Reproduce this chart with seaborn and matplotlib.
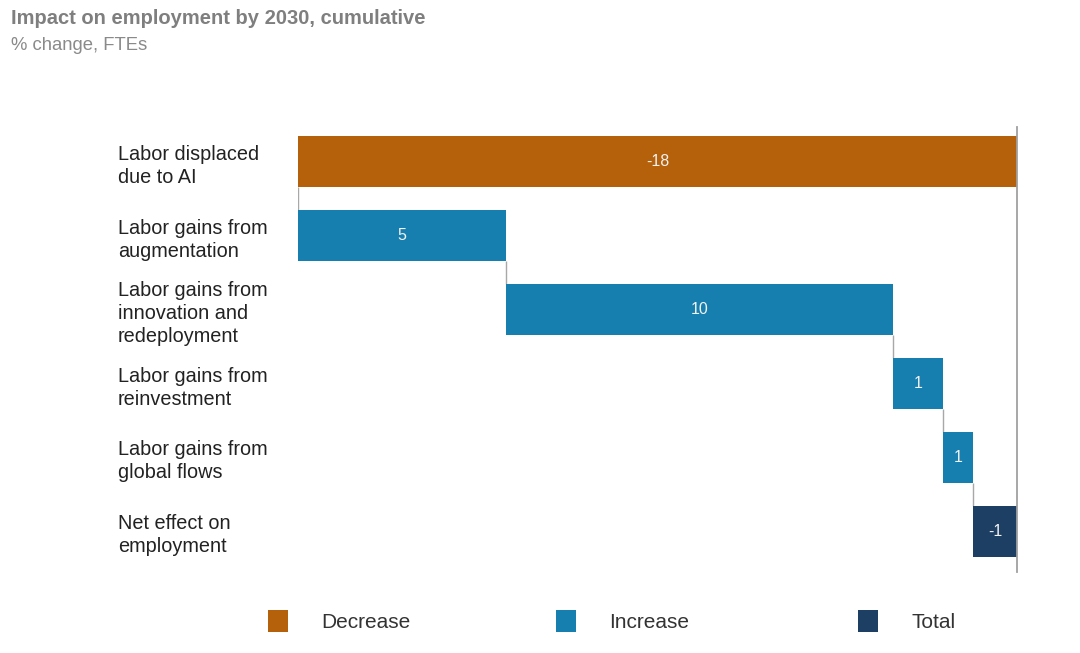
import numpy as np
import pandas as pd
import matplotlib
matplotlib.use("Agg")
import matplotlib.pyplot as plt
import seaborn as sns
from matplotlib.patches import Patch

# ---------------- data ----------------
title = "Impact on employment by 2030, cumulative"
subtitle = "% change, FTEs"
categories = [
    "Labor displaced\ndue to AI",
    "Labor gains from\naugmentation",
    "Labor gains from\ninnovation and\nredeployment",
    "Labor gains from\nreinvestment",
    "Labor gains from\nglobal flows",
    "Net effect on\nemployment",
]
steps = [-18.0, 5.2, 9.7, 1.25, 0.75]          # contributions
value_labels = ["-18", "5", "10", "1", "1", "-1"]
kinds = ["Decrease", "Increase", "Increase", "Increase", "Increase", "Total"]
legend_labels = ["Decrease", "Increase", "Total"]
colors = {"Decrease": "#B5600B", "Increase": "#167FAF", "Total": "#1D3F64"}

# ---------------- derived waterfall geometry ----------------
cum = np.cumsum(steps)
total = cum[-1]
deltas = np.array(steps + [total])
starts = np.concatenate([[0.0], cum[:-1], [0.0]])
ends = starts + deltas
df = pd.DataFrame({"category": categories, "delta": deltas, "start": starts, "kind": kinds})

sns.set_theme(style="white")
plt.rcParams["font.family"] = ["Liberation Sans", "DejaVu Sans"]

W, H = 1080, 653
fig = plt.figure(figsize=(W / 100, H / 100), dpi=100)
ax = fig.add_axes([298 / W, 1 - 572 / H, (1017 - 298) / W, (572 - 127) / H])

bar_w = 0.69
sns.barplot(data=df, y="category", x="delta", order=categories, orient="y",
            left=df["start"].values, width=bar_w, errorbar=None,
            color=colors["Increase"], saturation=1, linewidth=0, ax=ax)
for patch, kind in zip(ax.patches, df["kind"]):
    patch.set_facecolor(colors[kind])

ax.bar_label(ax.containers[0], labels=value_labels, label_type="center",
             color="#f2f2f2", fontsize=11.5)

# connectors
ax.vlines(ends[:-1], np.arange(5) + bar_w / 2, np.arange(1, 6) - bar_w / 2,
          color="#a8a8a8", linewidth=1, zorder=0)

ax.set_xlim(-18, 0)
ax.set_ylim(5.55, -0.47)
for s in ["top", "left", "bottom"]:
    ax.spines[s].set_visible(False)
ax.spines["right"].set_color("#a0a0a0")
ax.spines["right"].set_linewidth(1.3)
ax.set_xticks([])
ax.set_xlabel("")
ax.set_ylabel("")
ax.set_yticks(range(len(categories)))
ax.set_yticklabels(categories, ha="left", fontsize=14.3, color="#222222", linespacing=1.27)
ax.tick_params(axis="y", length=0, pad=(298 - 118) * 0.72)

fig.text(11 / W, 1 - 18 / H, title, fontsize=14.5, fontweight="bold",
         color="#7f7f7f", va="center", ha="left")
fig.text(11 / W, 1 - 45 / H, subtitle, fontsize=13.3, color="#8a8a8a",
         va="center", ha="left")

for lab, x in zip(legend_labels, [268, 556, 858]):
    fig.legend(handles=[Patch(facecolor=colors[lab], edgecolor="none")], labels=[lab],
               loc="center left", bbox_to_anchor=(x / W, 1 - 621 / H),
               frameon=False, handlelength=0.95, handleheight=1.2,
               handletextpad=1.6, fontsize=15, borderpad=0, borderaxespad=0,
               labelcolor="#333333")

fig.savefig("out.png", dpi=100, facecolor="white")
